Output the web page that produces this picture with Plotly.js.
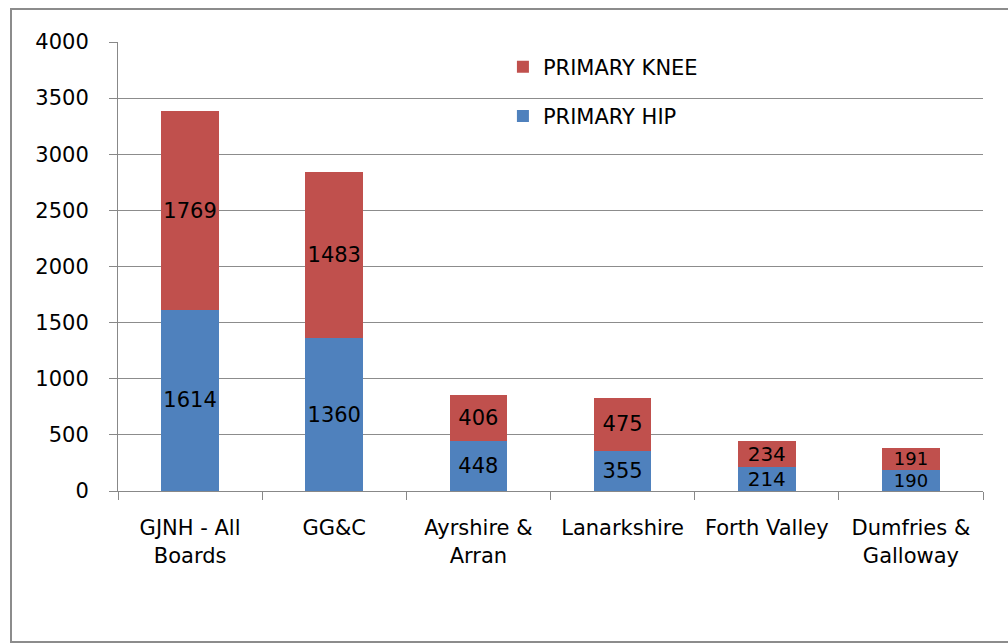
<!DOCTYPE html>
<html><head><meta charset="utf-8">
<script src="https://cdn.plot.ly/plotly-3.0.1.min.js"></script>
<style>
html,body{margin:0;padding:0;background:#fff;}
#chart{width:1008px;height:644px;}
#frame{position:absolute;left:10px;top:8px;width:1010px;height:635px;border:2px solid #8c8c8c;box-sizing:border-box;pointer-events:none;}
</style></head>
<body>
<div id="chart"></div>
<div id="frame"></div>
<script>
const categories = ["GJNH - All<br>Boards", "GG&C", "Ayrshire &<br>Arran", "Lanarkshire", "Forth Valley", "Dumfries &<br>Galloway"];
const primaryHip = [1614, 1360, 448, 355, 214, 190];
const primaryKnee = [1769, 1483, 406, 475, 234, 191];
const yTicks = [0, 500, 1000, 1500, 2000, 2500, 3000, 3500, 4000];

const font = "DejaVu Sans, sans-serif";
const common = {
  type: 'bar', x: categories, width: 0.4,
  textposition: 'inside', insidetextanchor: 'middle', textangle: 0,
  constraintext: 'none', texttemplate: '%{y}',
  textfont: {family: font, size: [21, 21, 21, 21, 20, 18], color: '#000'},
  hoverinfo: 'none'
};
const traces = [
  Object.assign({}, common, {name: 'PRIMARY HIP', y: primaryHip, marker: {color: '#4F81BD'}, legendgroup: 'hip', legendrank: 2}),
  Object.assign({}, common, {name: 'PRIMARY KNEE', y: primaryKnee, marker: {color: '#C0504D'}, legendgroup: 'knee', legendrank: 1})
];
const layout = {
  width: 1008, height: 644,
  margin: {l: 118, r: 25, t: 42, b: 153},
  paper_bgcolor: '#fff', plot_bgcolor: '#fff',
  barmode: 'stack',
  font: {family: font, size: 21, color: '#000'},
  showlegend: true,
  legend: {x: 0.445, y: 0.99, xanchor: 'left', yanchor: 'top', bgcolor: 'rgba(0,0,0,0)',
           traceorder: 'grouped', tracegroupgap: 19, font: {family: font, size: 21, color: '#000'}},
  xaxis: {showline: true, linecolor: '#888', linewidth: 1, ticks: 'outside', tickson: 'boundaries',
          ticklen: 8, tickcolor: '#888', showgrid: false, ticklabelstandoff: 18,
          tickfont: {family: font, size: 21, color: '#000'}},
  yaxis: {range: [0, 4000], tickvals: yTicks, showline: true, linecolor: '#888', linewidth: 1,
          ticks: 'outside', ticklen: 8, tickcolor: '#888', showgrid: true, gridcolor: '#8c8c8c', gridwidth: 1,
          zeroline: false, ticklabelstandoff: 16, tickfont: {family: font, size: 21, color: '#000'}}
};
Plotly.newPlot('chart', traces, layout, {staticPlot: true});
</script>
</body></html>
